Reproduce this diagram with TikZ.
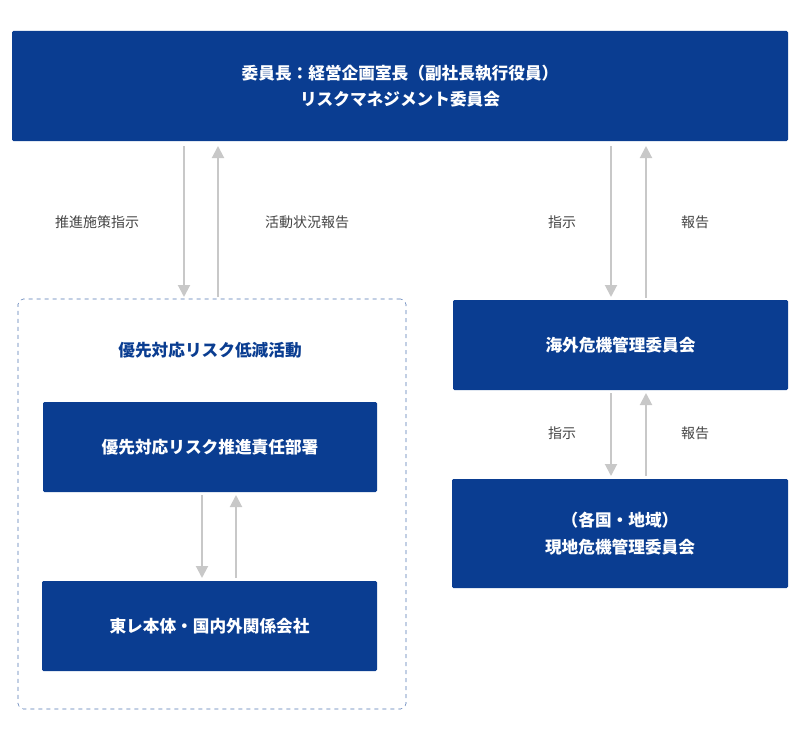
\documentclass[tikz,border=0pt]{standalone}
\usepackage{fontspec}
\setmainfont{Noto Sans CJK JP}
\newfontfamily\cjkb{Noto Sans CJK JP Bold}
\usetikzlibrary{arrows.meta}
\definecolor{navy}{HTML}{0A3D91}
\definecolor{arr}{HTML}{C8C8C8}
\definecolor{lbl}{HTML}{444444}
\tikzset{
  bluebox/.style={fill=navy,text=white,font=\fontsize{12.5}{20}\selectfont\bfseries,align=center,inner sep=0,rounded corners=1pt},
  conn/.style={draw=arr,line width=1.5pt,-{Triangle[length=9pt,width=9pt]}},
  lab/.style={text=lbl,font=\fontsize{10.5}{13}\selectfont}
}
\begin{document}
\begin{tikzpicture}[x=0.75pt,y=-0.75pt]
\useasboundingbox (0,0) rectangle (800,735);
\node[bluebox,minimum width=776*0.75pt,minimum height=110*0.75pt] (top) at (400,86) {委員長：経営企画室長（副社長執行役員）\\リスクマネジメント委員会};
\node[draw=navy!70,dashed,rounded corners=4pt,minimum width=388*0.75pt,minimum height=410*0.75pt,inner sep=0] (dash) at (212,504) {};
\node[text=navy,font=\fontsize{12.5}{15}\selectfont\bfseries] (ttl) at (210,350) {優先対応リスク低減活動};
\node[bluebox,minimum width=334*0.75pt,minimum height=90*0.75pt] (b1) at (210,447) {優先対応リスク推進責任部署};
\node[bluebox,minimum width=335*0.75pt,minimum height=90*0.75pt] (b2) at (209.5,626) {東レ本体・国内外関係会社};
\node[bluebox,minimum width=335*0.75pt,minimum height=90*0.75pt] (r1) at (620.5,345) {海外危機管理委員会};
\node[bluebox,minimum width=336*0.75pt,minimum height=109*0.75pt] (r2) at (620,533.5) {（各国・地域）\\現地危機管理委員会};
\coordinate (a1s) at (184,146); \coordinate (a1e) at (184,297);
\coordinate (a2s) at (218,297); \coordinate (a2e) at (218,146);
\coordinate (a3s) at (611,146); \coordinate (a3e) at (611,297);
\coordinate (a4s) at (646,298); \coordinate (a4e) at (646,146);
\coordinate (a5s) at (202,495); \coordinate (a5e) at (202,578);
\coordinate (a6s) at (236,578); \coordinate (a6e) at (236,495);
\coordinate (a7s) at (611,393); \coordinate (a7e) at (611,476);
\coordinate (a8s) at (646,476); \coordinate (a8e) at (646,393);
\foreach \i in {1,...,8} {\draw[conn] (a\i s) -- (a\i e);}
\node[lab] (l1) at (97,222) {推進施策指示};
\node[lab] (l2) at (307,222) {活動状況報告};
\node[lab] (l3) at (562,222) {指示};
\node[lab] (l4) at (695,222) {報告};
\node[lab] (l5) at (562,433) {指示};
\node[lab] (l6) at (695,433) {報告};
\end{tikzpicture}
\end{document}
